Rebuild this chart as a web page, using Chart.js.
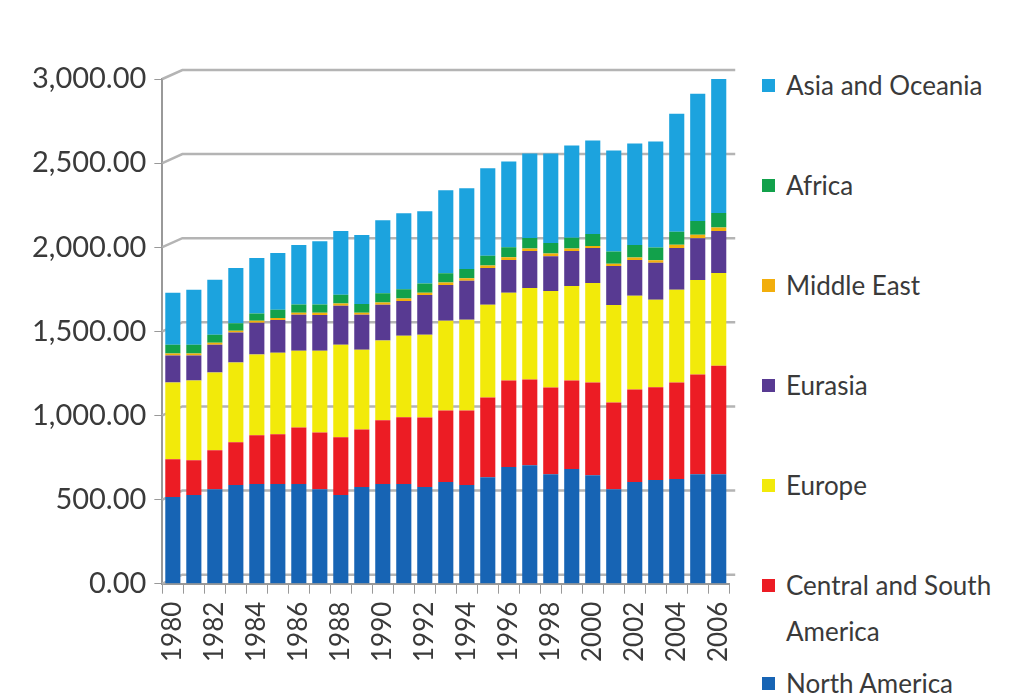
<!DOCTYPE html>
<html lang="en">
<head>
  <meta charset="UTF-8" />
  <title>World hydroelectricity by region</title>
  <script src="https://cdn.jsdelivr.net/npm/chart.js"></script>
  <style>
    html, body { margin: 0; padding: 0; background: #fff; }
    #wrap { position: relative; width: 1011px; height: 699px; overflow: hidden; }
    #chart { position: absolute; left: 0; top: 0; }
    #legend { position: absolute; left: 762px; top: 62px; margin: 0; padding: 0; list-style: none;
      font-family: Lato, "Open Sans", sans-serif; font-size: 26px; color: #3a3a3a; }
    #legend li { position: relative; padding-left: 24px; line-height: 46px; height: 46px; margin-bottom: 54px; white-space: nowrap; }
    #legend li.two { height: 92px; margin-bottom: 6px; }
    #legend li span.box { position: absolute; left: 0; top: 17px; width: 13px; height: 13px; }
  </style>
</head>
<body>
  <div id="wrap">
    <canvas id="chart" width="758" height="699"></canvas>
    <ul id="legend"></ul>
  </div>

  <script>
    const years = ['1980','1981','1982','1983','1984','1985','1986','1987','1988','1989',
      '1990','1991','1992','1993','1994','1995','1996','1997','1998','1999',
      '2000','2001','2002','2003','2004','2005','2006']

    const northAmerica = [515, 527, 562, 586, 592, 592, 592, 562, 527, 574, 592, 592, 574, 604, 586, 633, 693, 704, 651, 681, 645, 562, 604, 616, 622, 651, 651]
    const centralSouthAmerica = [225, 207, 231, 255, 290, 296, 337, 337, 343, 343, 379, 397, 414, 426, 444, 474, 515, 509, 515, 527, 551, 515, 551, 551, 574, 592, 645]
    const europe = [456, 474, 462, 474, 480, 485, 456, 485, 551, 474, 474, 485, 491, 533, 539, 551, 521, 545, 574, 562, 592, 580, 556, 521, 551, 562, 551]
    const eurasia = [160, 148, 166, 178, 189, 195, 213, 213, 231, 207, 213, 207, 237, 213, 231, 219, 195, 219, 207, 207, 207, 231, 213, 219, 249, 249, 249]
    const middleEast = [12, 12, 11, 10, 12, 12, 12, 13, 13, 13, 14, 14, 14, 15, 15, 15, 16, 16, 16, 15, 13, 14, 15, 16, 18, 20, 22]
    const africa = [53, 53, 48, 45, 43, 48, 50, 50, 52, 52, 55, 55, 55, 55, 56, 58, 60, 62, 62, 65, 70, 72, 74, 76, 78, 82, 85]
    const asiaOceania = [308, 326, 326, 329, 330, 337, 353, 376, 379, 409, 434, 452, 429, 492, 479, 519, 510, 502, 532, 548, 556, 601, 604, 629, 702, 757, 810]

    const yTicks = [0, 500, 1000, 1500, 2000, 2500, 3000]

    const series = [
      { label: 'North America', data: northAmerica, color: '#1764b4' },
      { label: 'Central and South America', data: centralSouthAmerica, color: '#ec1c24' },
      { label: 'Europe', data: europe, color: '#f2ea0a' },
      { label: 'Eurasia', data: eurasia, color: '#583a92' },
      { label: 'Middle East', data: middleEast, color: '#f2ae0c' },
      { label: 'Africa', data: africa, color: '#12a14b' },
      { label: 'Asia and Oceania', data: asiaOceania, color: '#1ca3de' }
    ]

    // back wall gridlines with a little 3D slant
    const wallGrid = {
      id: 'wallGrid',
      beforeDatasetsDraw(chart) {
        const { ctx, chartArea, scales } = chart
        ctx.save()
        ctx.strokeStyle = '#b4b4b4'
        ctx.lineWidth = 2.5
        yTicks.forEach(v => {
          const y = scales.y.getPixelForValue(v)
          ctx.beginPath()
          ctx.moveTo(chartArea.left, y)
          ctx.lineTo(chartArea.left + 20, y - 9)
          ctx.lineTo(chartArea.right + 6, y - 9)
          ctx.stroke()
        })
        ctx.restore()
      }
    }

    new Chart(document.getElementById('chart'), {
      type: 'bar',
      data: {
        labels: years,
        datasets: series.map(s => ({
          label: s.label,
          data: s.data,
          backgroundColor: s.color,
          borderWidth: 0,
          barPercentage: 0.72,
          categoryPercentage: 1
        }))
      },
      options: {
        responsive: false,
        animation: false,
        layout: { padding: { left: 24, top: 79, right: 4, bottom: 29 } },
        plugins: {
          legend: { display: false },
          tooltip: { enabled: false }
        },
        scales: {
          x: {
            stacked: true,
            grid: { drawOnChartArea: false, color: '#999', tickLength: 10 },
            border: { color: '#999', width: 2 },
            ticks: {
              autoSkip: false,
              minRotation: 90,
              maxRotation: 90,
              padding: 8,
              color: '#3a3a3a',
              font: { family: 'Lato', size: 26 },
              callback: (v, i) => (i % 2 === 0 ? years[i] : '')
            }
          },
          y: {
            stacked: true,
            min: 0,
            max: 3000,
            ticks: {
              stepSize: 500,
              color: '#3a3a3a',
              padding: 8,
              font: { family: 'Lato', size: 29 },
              callback: v => v.toLocaleString('en-US', { minimumFractionDigits: 2, maximumFractionDigits: 2 })
            },
            grid: { drawOnChartArea: false, color: '#999', tickLength: 8 },
            border: { color: '#999', width: 2 }
          }
        }
      },
      plugins: [wallGrid]
    })

    const legend = document.getElementById('legend')
    series.slice().reverse().forEach(s => {
      const li = document.createElement('li')
      if (s.label === 'Central and South America') {
        li.className = 'two'
        li.innerHTML = '<span class="box"></span>Central and South<br>America'
      } else {
        li.innerHTML = '<span class="box"></span>' + s.label
      }
      li.querySelector('.box').style.background = s.color
      legend.appendChild(li)
    })
  </script>
</body>
</html>
